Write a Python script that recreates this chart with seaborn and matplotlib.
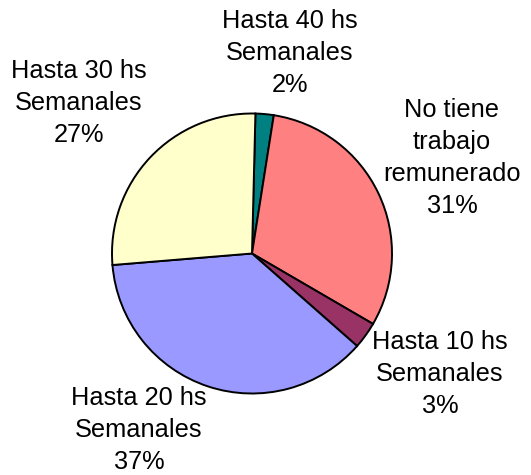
import matplotlib
matplotlib.use("Agg")
import matplotlib.pyplot as plt
import seaborn as sns

categories = ["Hasta 40 hs\nSemanales", "No tiene\ntrabajo\nremunerado",
              "Hasta 10 hs\nSemanales", "Hasta 20 hs\nSemanales", "Hasta 30 hs\nSemanales"]
values = [2.1, 30.9, 3.1, 37.2, 26.7]
colors = ["#008080", "#FF8080", "#993366", "#9999FF", "#FFFFCC"]
# label centers in pixel coords (x, y from top)
label_pos = [(290, 53), (452, 158), (440, 374), (139, 430), (79, 103)]

sns.set_theme(style="white")
plt.rcParams["font.family"] = ["Liberation Sans", "DejaVu Sans"]

W, H = 531, 475
fig = plt.figure(figsize=(W / 100, H / 100), dpi=100)
ax = fig.add_axes([0, 0, 1, 1])
cx, cy, r = 252, 253.5, 140
ax.pie(values, colors=colors, startangle=88.6, counterclock=False,
       center=(cx, H - cy), radius=r,
       wedgeprops=dict(edgecolor="black", linewidth=1.4))
ax.set_xlim(0, W)
ax.set_ylim(0, H)
ax.set_aspect("equal")
ax.axis("off")

total = sum(values)
for cat, v, (x, y) in zip(categories, values, label_pos):
    ax.text(x, H - y, f"{cat}\n{round(v / total * 100)}%", ha="center", va="center",
            fontsize=18.3, linespacing=1.42, color="black")

fig.savefig("out.png", dpi=100, facecolor="white")
